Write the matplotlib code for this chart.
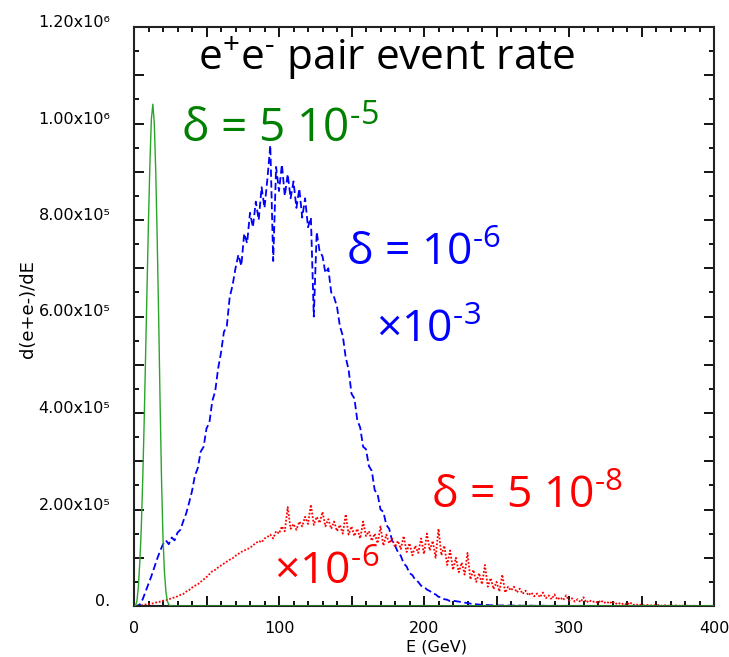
import numpy as np
import matplotlib
matplotlib.use("Agg")
import matplotlib.pyplot as plt
from matplotlib.ticker import MultipleLocator, FuncFormatter

# ---------------- data ----------------
# green: delta = 5e-5, 1 GeV bins, in units of 1e3
green_e = [0, 1, 2, 3, 4, 5, 6, 7, 8, 9, 10, 11, 12, 13, 14, 15, 16, 17, 18, 19,
           20, 21, 22, 23, 24, 25, 400]
green_k = [0, 0, 10, 40, 90, 160, 260, 380, 520, 660, 800, 920, 1010, 1040, 1000,
           900, 760, 600, 420, 260, 140, 70, 30, 10, 3, 0, 0]

# blue: delta = 1e-6 (x1e-3), 2 GeV bins, units of 1e3
blue_e = list(range(0, 400, 2))
blue_k = [
    0, 0, 3, 14, 30, 46, 62, 80, 98, 114,
    128, 136, 128, 142, 136, 152, 158, 176, 192, 214,
    238, 270, 286, 320, 330, 368, 380, 425, 445, 492,
    525, 568, 580, 640, 665, 700, 728, 705, 772, 752,
    815, 785, 838, 800, 868, 825, 885, 955, 715, 910,
    860, 915, 850, 895, 845, 880, 825, 865, 805, 845,
    785, 805, 600, 775, 735, 725, 690, 700, 650, 640,
    620, 580, 560, 515, 490, 440, 430, 385, 370, 330,
    325, 290, 280, 240, 232, 200, 195, 168, 160, 135,
    125, 112, 104, 88, 82, 68, 64, 54, 50, 42,
    40, 34, 31, 26, 24, 19, 18, 14, 13, 10,
    11, 10, 9, 8, 7, 6, 5, 4, 3.5, 3,
    2.5, 2, 2, 1.5, 1.5, 1.2, 1, 1.2, 0.8, 1,
    0.8, 1.0, 0.6, 0.9, 0.5, 0.8, 0.5, 0.7, 0.4, 0.6,
    0.4, 0.6, 0.3, 0.5, 0.3, 0.5, 0.3, 0.4, 0.2, 0.4,
    0.2, 0.4, 0.2, 0.3, 0.2, 0.3, 0.1, 0.3, 0.1, 0.2,
    0.1, 0.2, 0.1, 0.2, 0.1, 0.2, 0.1, 0.2, 0.1, 0.1,
    0.1, 0.1, 0.1, 0.1, 0.1, 0.1, 0.1, 0.1, 0.1, 0.1,
    0.1, 0.1, 0.1, 0.1, 0.1, 0.1, 0.1, 0.1, 0.1, 0.1,
    0.1, 0.1, 0.1, 0.1, 0.1, 0.1, 0.1, 0.1, 0.1, 0.1,
]

# red: delta = 5e-8 (x1e-6), 2 GeV bins, units of 1e3
red_e = list(range(0, 400, 2))
red_k = [
    0, 0, 0, 2, 3, 4, 5, 6, 8, 9,
    11, 12, 14, 16, 18, 20, 23, 25, 30, 33,
    38, 42, 45, 50, 55, 60, 66, 72, 75, 80,
    84, 88, 92, 96, 99, 104, 108, 112, 115, 118,
    120, 126, 130, 135, 132, 140, 143, 148, 140, 155,
    150, 165, 155, 205, 160, 170, 158, 175, 165, 185,
    170, 210, 168, 185, 172, 195, 165, 180, 160, 175,
    155, 168, 150, 190, 148, 165, 145, 160, 140, 175,
    145, 155, 135, 150, 130, 165, 125, 148, 130, 140,
    122, 135, 118, 145, 112, 130, 105, 125, 110, 140,
    108, 150, 115, 135, 100, 160, 105, 125, 85, 115,
    75, 100, 70, 90, 65, 110, 55, 75, 50, 68,
    45, 85, 40, 58, 35, 50, 30, 65, 28, 40,
    32, 40, 28, 36, 25, 32, 22, 28, 20, 26,
    18, 28, 16, 22, 14, 24, 13, 18, 12, 22,
    11, 16, 9, 14, 8, 18, 7, 12, 8, 10,
    6, 12, 6, 9, 5, 10, 4, 7, 3, 6,
    2, 8, 2, 4, 1, 3, 1, 2, 1, 2,
    1, 2, 0.5, 1.5, 0.5, 1, 0.5, 1, 0.3, 0.8,
    0.3, 0.6, 0.2, 0.5, 0.2, 0.4, 0.1, 0.3, 0.1, 0.2,
]

y_major_labels = {0: "0.", 200000: "2.00x10\u2075", 400000: "4.00x10\u2075",
                  600000: "6.00x10\u2075", 800000: "8.00x10\u2075",
                  1000000: "1.00x10\u2076", 1200000: "1.20x10\u2076"}
x_major_labels = {0: "0", 100: "100", 200: "200", 300: "300", 400: "400"}

# ---------------- style ----------------
plt.rcParams['mathtext.fontset'] = 'custom'
plt.rcParams['mathtext.rm'] = 'Open Sans'
plt.rcParams['mathtext.it'] = 'Open Sans:italic'
plt.rcParams['mathtext.bf'] = 'Open Sans:bold'

W, H = 729, 657
fig = plt.figure(figsize=(W / 100, H / 100), dpi=100)
ax = fig.add_axes([134 / W, 1 - 606 / H, 580 / W, 579 / H])

scale = 1000.0
ax.plot(green_e, np.array(green_k) * scale, color='#2aa52a', lw=1.0, zorder=3)
ax.plot(blue_e, np.array(blue_k) * scale, color='#0000ff', lw=1.3,
        linestyle=(0, (4, 2)), zorder=2)
ax.plot(red_e, np.array(red_k) * scale, color='#ff0000', lw=1.3,
        linestyle=(0, (1, 1)), zorder=2)

ax.set_xlim(0, 400)
ax.set_ylim(0, 1.2e6)

ax.xaxis.set_major_locator(MultipleLocator(50))
ax.xaxis.set_minor_locator(MultipleLocator(10))
ax.yaxis.set_major_locator(MultipleLocator(100000))
ax.yaxis.set_minor_locator(MultipleLocator(50000))
ax.xaxis.set_major_formatter(FuncFormatter(lambda v, p: x_major_labels.get(int(round(v)), "")))
ax.yaxis.set_major_formatter(FuncFormatter(lambda v, p: y_major_labels.get(int(round(v)), "")))

ax.tick_params(which='both', direction='in', top=True, right=True,
               colors='black', width=1.3, labelsize=11.5)
ax.tick_params(which='major', length=7)
ax.tick_params(which='minor', length=3.5)
ax.tick_params(axis='y', which='major', pad=17)
ax.tick_params(axis='x', which='major', pad=11)
for s in ax.spines.values():
    s.set_linewidth(1.5)
    s.set_color('#222222')

fig.canvas.draw()
for t in ax.get_yticklabels():
    t.set_verticalalignment('baseline')

ax.set_xlabel("E (GeV)", fontsize=11.5)
ax.set_ylabel("d(e+e-)/dE", fontsize=13)
ax.xaxis.set_label_coords(0.522, -0.058)
ax.yaxis.set_label_coords(-0.168, 0.513)

HY = "\u2010"
af = dict(family=['Open Sans', 'DejaVu Sans'])
ax.text(174, 1.135e6, "e$^{+}$e$^{" + HY + "}$ pair event rate", fontsize=30.5,
        color='black', ha='center', va='center', **af)
ax.text(101, 0.986e6, "\u03b4 = 5 10$^{" + HY + "5}$", fontsize=33, color='#008000',
        ha='center', va='center', **af)
ax.text(200, 0.731e6, "\u03b4 = 10$^{" + HY + "6}$", fontsize=32, color='#0000ff',
        ha='center', va='center', **af)
ax.text(203, 0.571e6, "\u00d710$^{" + HY + "3}$", fontsize=32, color='#0000ff',
        ha='center', va='center', **af)
ax.text(271, 0.226e6, "\u03b4 = 5 10$^{" + HY + "8}$", fontsize=32, color='#ff0000',
        ha='center', va='center', **af)
ax.text(133, 0.068e6, "\u00d710$^{" + HY + "6}$", fontsize=32, color='#ff0000',
        ha='center', va='center', **af)

fig.savefig("out.png", dpi=100)
